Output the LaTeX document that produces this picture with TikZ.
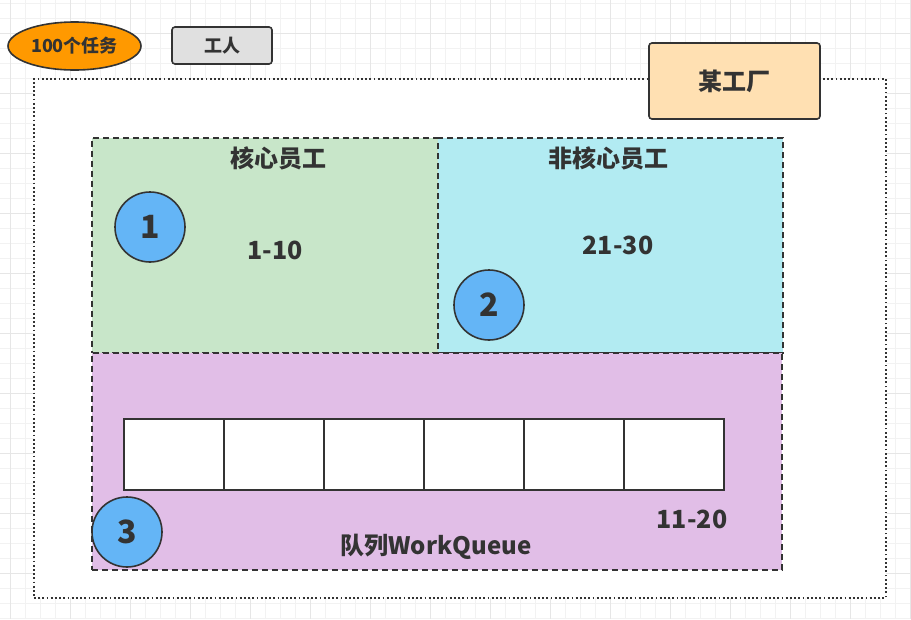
\documentclass[tikz,border=0pt]{standalone}
\usepackage{fontspec}
\setmainfont{Noto Sans CJK SC}
\usetikzlibrary{shapes.geometric}
\definecolor{txt}{HTML}{333333}
\definecolor{gridmin}{HTML}{F2F2F2}
\definecolor{gridmaj}{HTML}{E6E6E6}
\definecolor{orangef}{HTML}{FF9900}
\definecolor{grayf}{HTML}{E0E0E0}
\definecolor{peachf}{HTML}{FFE0B2}
\definecolor{greenf}{HTML}{C8E6C9}
\definecolor{cyanf}{HTML}{B2EBF2}
\definecolor{purplef}{HTML}{E1BEE7}
\definecolor{bluef}{HTML}{64B5F6}
\tikzset{
  lbl/.style={font=\bfseries\fontsize{#1}{#1}\selectfont, text=txt, inner sep=0pt},
  lbl/.default=22,
  panel/.style={draw=txt, line width=1.6pt, dash pattern=on 6pt off 4pt, anchor=north west, inner sep=0pt},
  cell/.style={draw=txt, line width=1.6pt, fill=white, anchor=north west, inner sep=0pt, minimum width=100pt, minimum height=71pt},
  badge/.style={circle, draw=txt, line width=1.6pt, fill=bluef, minimum size=70pt, inner sep=0pt, font=\bfseries\fontsize{32}{32}\selectfont, text=txt},
  rbox/.style={draw=txt, line width=1.6pt, rounded corners=3pt, inner sep=0pt},
}
\begin{document}
\begin{tikzpicture}[x=1pt,y=-1pt]
\useasboundingbox (0,0) rectangle (911,619);
\fill[white] (0,0) rectangle (911,619);
% grid
\foreach \x in {10,25,...,910} \draw[gridmin, line width=0.8pt] (\x,0) -- (\x,619);
\foreach \y in {3,18,...,618} \draw[gridmin, line width=0.8pt] (0,\y) -- (911,\y);
\foreach \x in {10,70,...,910} \draw[gridmaj, line width=0.8pt] (\x,0) -- (\x,619);
\foreach \y in {33,93,...,618} \draw[gridmaj, line width=0.8pt] (0,\y) -- (911,\y);
% outer container
\node[draw=txt, fill=white, line width=1.8pt, dash pattern=on 1.8pt off 2.4pt, anchor=north west, inner sep=0pt, minimum width=852pt, minimum height=519pt] (container) at (33,78) {};
% legend
\node[ellipse, draw=txt, line width=1.6pt, fill=orangef, minimum width=133pt, minimum height=48pt, inner sep=0pt, lbl=18] (tasks) at (74.5,46) {100个任务};
\node[rbox, fill=grayf, minimum width=100pt, minimum height=37pt, lbl=18] (worker) at (222,45.5) {工人};
\node[rbox, fill=peachf, minimum width=171pt, minimum height=76pt, lbl=24] (factory) at (734.5,81) {某工厂};
% panels
\node[panel, fill=greenf, minimum width=346pt, minimum height=215pt] (core) at (91,137) {};
\node[panel, fill=cyanf, minimum width=345pt, minimum height=215pt] (noncore) at (437,137) {};
\node[panel, fill=purplef, minimum width=690pt, minimum height=217pt] (queue) at (91,352) {};
% queue cells
\foreach \i in {0,...,5} \node[cell] (c\i) at (123+100*\i,418) {};
% labels
\node[lbl=24] (corelbl) at (278,158) {核心员工};
\node[lbl=25] (corerange) at (275,250) {1-10};
\node[lbl=24] (noncorelbl) at (608,158) {非核心员工};
\node[lbl=25] (noncorerange) at (618,245) {21-30};
\node[lbl=25] (queuerange) at (692,519) {11-20};
\node[lbl=24] (queuelbl) at (436,547) {队列WorkQueue};
% badges
\node[badge] (b1) at (150,227) {1};
\node[badge] (b2) at (489,305) {2};
\node[badge] (b3) at (127,532) {3};
\end{tikzpicture}
\end{document}
